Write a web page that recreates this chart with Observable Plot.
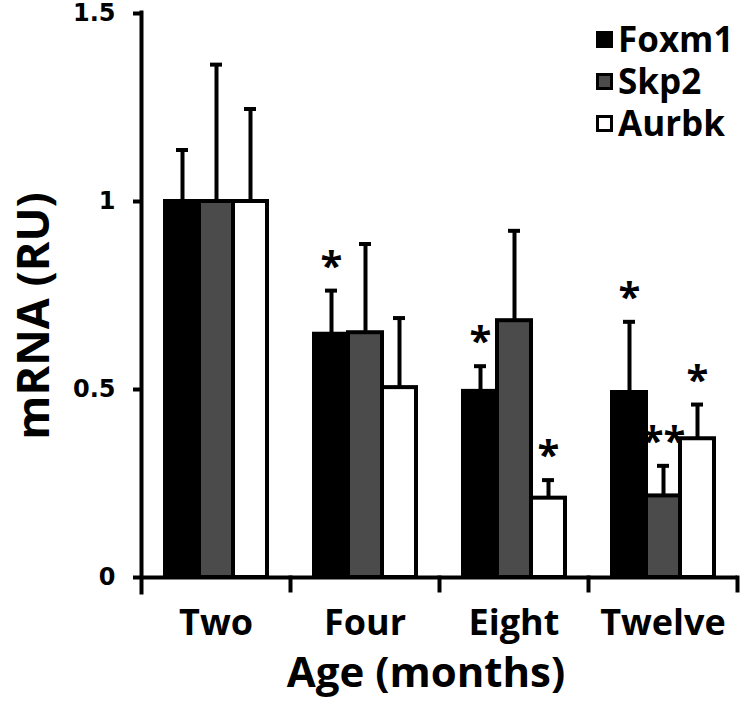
<!DOCTYPE html>
<html><head><meta charset="utf-8">
<script src="https://cdn.jsdelivr.net/npm/d3@7"></script>
<script src="https://cdn.jsdelivr.net/npm/@observablehq/plot@0.6"></script>
<style>
body{margin:0;background:#fff;}
#wrap{position:relative;width:748px;height:708px;font-family:"Open Sans",sans-serif;font-weight:700;color:#000;}
#wrap svg{position:absolute;left:0;top:0;}
#wrap svg g[aria-label="fx-axis tick label"]{font-family:"Open Sans",sans-serif;font-size:36px;font-weight:700;}
.t{position:absolute;white-space:nowrap;}
.sq{position:absolute;width:17px;height:17px;box-sizing:border-box;border:3px solid #000;}
</style></head><body><div id="wrap"></div>
<script>
const ages = ["Two", "Four", "Eight", "Twelve"];
const genes = ["Foxm1", "Skp2", "Aurbk"];
const foxm1 = [1, 0.647, 0.495, 0.492];
const skp2 = [1, 0.651, 0.683, 0.217];
const aurbk = [1, 0.505, 0.211, 0.369];
const foxm1Err = [0.137, 0.116, 0.067, 0.188];
const skp2Err = [0.364, 0.236, 0.239, 0.080];
const aurbkErr = [0.246, 0.185, 0.048, 0.091];
const foxm1Sig = ["", "*", "*", "*"];
const skp2Sig = ["", "", "", "**"];
const aurbkSig = ["", "", "*", "*"];
const yTicks = [0, 0.5, 1, 1.5];
const yTickLabels = ["0", "0.5", "1", "1.5"];
const fills = ["#000000", "#4b4b4b", "#ffffff"];

const vals = [foxm1, skp2, aurbk], errs = [foxm1Err, skp2Err, aurbkErr], sigs = [foxm1Sig, skp2Sig, aurbkSig];
const rows = [];
genes.forEach((g, gi) => ages.forEach((a, ai) => rows.push({age: a, gene: g, value: vals[gi][ai], err: errs[gi][ai], sig: sigs[gi][ai]})));
const tickRows = yTicks.map((v, i) => ({v, label: yTickLabels[i]}));

const chart = Plot.plot({
  width: 748, height: 708, marginLeft: 140, marginRight: 11, marginTop: 13, marginBottom: 131,
  style: {background: "transparent", overflow: "visible"},
  fx: {domain: ages, padding: 0},
  x: {domain: genes, paddingInner: 0, paddingOuter: 0.674, axis: null},
  y: {domain: [0, 1.5]},
  color: {domain: genes, range: fills},
  marks: [
    Plot.ruleX(rows, {fx: "age", x: "gene", y1: "value", y2: d => d.value + d.err, stroke: "#000", strokeWidth: 4}),
    Plot.tickY(rows, {fx: "age", x: "gene", y: d => d.value + d.err, stroke: "#000", strokeWidth: 4, insetLeft: 11, insetRight: 11}),
    Plot.barY(rows, {fx: "age", x: "gene", y: "value", fill: "gene", stroke: "#000", strokeWidth: 4}),
    Plot.text(rows.filter(d => d.sig), {fx: "age", x: "gene", y: d => d.value + d.err, text: "sig", lineAnchor: "bottom", dy: -11, fontSize: 40, fontWeight: 700, fontFamily: "Open Sans"}),
    Plot.ruleY([0], {stroke: "#000", strokeWidth: 4}),
    Plot.frame({anchor: "left", facetAnchor: "left", insetBottom: -15, insetTop: -1, strokeWidth: 4}),
    Plot.frame({anchor: "right", insetTop: 564, insetBottom: -13, strokeWidth: 4}),
    Plot.axisY({ticks: yTicks, tickSize: 8, text: null, strokeWidth: 4, label: null}),
    Plot.text(tickRows, {y: "v", text: "label", frameAnchor: "left", facetAnchor: "left", textAnchor: "end", dx: -26, fontSize: 24, fontWeight: 700, fontFamily: "DejaVu Sans"}),
    Plot.axisFx({anchor: "bottom", tickSize: 0, tickPadding: 32, label: null})
  ]
});
const wrap = document.getElementById("wrap");
wrap.append(chart);

function addText(txt, css) {
  const d = document.createElement("div");
  d.className = "t";
  d.textContent = txt;
  Object.assign(d.style, css);
  wrap.append(d);
  return d;
}
addText("mRNA (RU)", {left: "31px", top: "316px", fontSize: "45px", lineHeight: "45px", transform: "translate(-50%,-50%) rotate(-90deg)"});
addText("Age (months)", {left: "426px", top: "650px", fontSize: "42px", lineHeight: "42px", transform: "translateX(-50%)"});

genes.forEach((g, i) => {
  const top = 22 + i * 42;
  const sq = document.createElement("div");
  sq.className = "sq";
  sq.style.left = "596px";
  sq.style.top = (top + 9) + "px";
  sq.style.background = fills[i];
  wrap.append(sq);
  addText(g, {left: "618px", top: top + "px", fontSize: "35px", lineHeight: "34px"});
});
</script></body></html>
